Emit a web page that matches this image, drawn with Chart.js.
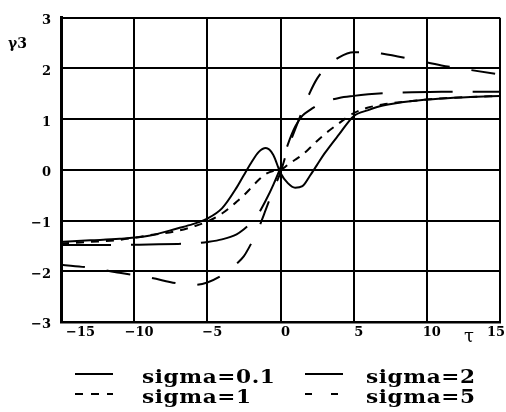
<!DOCTYPE html>
<html>
<head>
<meta charset="utf-8">
<script src="https://cdn.jsdelivr.net/npm/chart.js@4.4.0/dist/chart.umd.min.js"></script>
<style>
  body { margin: 0; background: #fff; }
  #wrap { width: 506px; height: 412px; }
</style>
</head>
<body>
<div id="wrap"><canvas id="linechart"></canvas></div>
<script>
// sample positions along tau, shared by all four curves
const tau = [-15, -13, -11, -9, -7, -6, -5, -4, -3, -2.5, -2, -1.5, -1, -0.5, 0,
             0.5, 1, 1.5, 2, 2.5, 3, 4, 5, 6, 7, 9, 11, 13, 15];

const sigma01 = [-1.42, -1.39, -1.36, -1.30, -1.15, -1.07, -0.96, -0.76, -0.35, -0.10, 0.14, 0.35, 0.43, 0.30, -0.06,
                 -0.26, -0.35, -0.32, -0.12, 0.10, 0.32, 0.70, 1.06, 1.18, 1.27, 1.36, 1.41, 1.44, 1.46];
const sigma2 = [-1.48, -1.48, -1.48, -1.47, -1.46, -1.45, -1.42, -1.37, -1.27, -1.17, -1.04, -0.86, -0.60, -0.30, 0.05,
                0.50, 0.85, 1.07, 1.18, 1.27, 1.34, 1.42, 1.46, 1.49, 1.51, 1.53, 1.54, 1.54, 1.54];
const sigma1 = [-1.45, -1.42, -1.38, -1.29, -1.20, -1.12, -1.02, -0.86, -0.63, -0.50, -0.35, -0.20, -0.08, -0.02, 0.00,
                0.10, 0.20, 0.30, 0.43, 0.57, 0.70, 0.92, 1.12, 1.23, 1.29, 1.36, 1.41, 1.44, 1.46];
const sigma5 = [-1.87, -1.93, -2.03, -2.12, -2.24, -2.27, -2.22, -2.08, -1.85, -1.70, -1.45, -1.15, -0.78, -0.40, -0.05,
                0.42, 0.80, 1.17, 1.52, 1.80, 1.99, 2.22, 2.32, 2.32, 2.29, 2.18, 2.06, 1.97, 1.88];

const seriesNames = ['sigma=0.1', 'sigma=2', 'sigma=1', 'sigma=5'];
const xTicks = [-15, -10, -5, 0, 5, 10, 15];
const xTickLabels = ['\u221215', '\u221210', '\u22125', '0', '5', '10', '15'];
const yTicks = [-3, -2, -1, 0, 1, 2, 3];
const yTickLabels = ['\u22123', '\u22122', '\u22121', '0', '1', '2', '3'];

const pts = vals => tau.map((t, i) => ({ x: t, y: vals[i] }));
const tickFont = { family: 'DejaVu Serif', size: 13, weight: 'bold' };

// legend + axis names, drawn Mathcad style under the plot
const extras = {
  id: 'extras',
  afterDraw(chart) {
    const ctx = chart.ctx;
    const legendDash = [[], [], [8, 8], [7, 19]];
    const lineX = [75, 305];
    const textX = [142, 366];
    const rowY = [374, 394];
    ctx.save();
    ctx.fillStyle = '#000';
    ctx.strokeStyle = '#000';
    chart.data.datasets.forEach((ds, i) => {
      const c = i % 2, y = rowY[Math.floor(i / 2)];
      ctx.lineWidth = 2;
      ctx.setLineDash(legendDash[i]);
      ctx.beginPath();
      ctx.moveTo(lineX[c], y);
      ctx.lineTo(lineX[c] + 38, y);
      ctx.stroke();
      ctx.setLineDash([]);
      // the scanned legend font is wide, so stretch it a bit
      ctx.save();
      ctx.translate(textX[c], y + 9);
      ctx.scale(1.2, 1);
      ctx.font = 'bold 18px "DejaVu Serif"';
      ctx.letterSpacing = '0.5px';
      ctx.textAlign = 'left';
      ctx.textBaseline = 'alphabetic';
      ctx.fillText(ds.label, 0, 0);
      ctx.restore();
    });
    ctx.font = 'bold 14px "DejaVu Serif"';
    ctx.fillText('\u03b33', 8, 48);
    ctx.font = '18px "DejaVu Serif"';
    ctx.fillText('\u03c4', 464, 342);
    ctx.restore();
  }
};

const ctx = document.getElementById('linechart');

new Chart(ctx, {
  type: 'line',
  data: {
    datasets: [
      { label: seriesNames[0], data: pts(sigma01), borderDash: [] },
      { label: seriesNames[1], data: pts(sigma2), borderDash: [50, 20] },
      { label: seriesNames[2], data: pts(sigma1), borderDash: [8, 7] },
      { label: seriesNames[3], data: pts(sigma5), borderDash: [24, 22] }
    ].map(ds => Object.assign(ds, {
      borderColor: '#000',
      borderWidth: 2,
      pointRadius: 0,
      fill: false,
      cubicInterpolationMode: 'monotone'
    }))
  },
  options: {
    responsive: true,
    maintainAspectRatio: false,
    animation: false,
    layout: { padding: { top: 14, right: 6, left: 0, bottom: 0 } },
    plugins: {
      legend: { display: false },
      tooltip: { enabled: false }
    },
    scales: {
      x: {
        type: 'linear',
        min: -15,
        max: 15,
        afterFit: s => { s.height = 90; },
        grid: { color: '#000', lineWidth: 2, drawTicks: false },
        border: { color: '#000', width: 2.5 },
        ticks: {
          stepSize: 5,
          align: 'inner',
          labelOffset: 5,
          padding: 3,
          color: '#000',
          font: tickFont,
          maxRotation: 0,
          callback: v => xTickLabels[xTicks.indexOf(v)]
        }
      },
      y: {
        min: -3,
        max: 3,
        afterFit: s => { s.width = 61; },
        grid: { color: '#000', lineWidth: 2, drawTicks: false },
        border: { color: '#000', width: 3 },
        ticks: {
          stepSize: 1,
          padding: 10,
          labelOffset: 3,
          color: '#000',
          font: tickFont,
          callback: v => yTickLabels[yTicks.indexOf(v)]
        }
      }
    }
  },
  plugins: [extras]
});
</script>
</body>
</html>
